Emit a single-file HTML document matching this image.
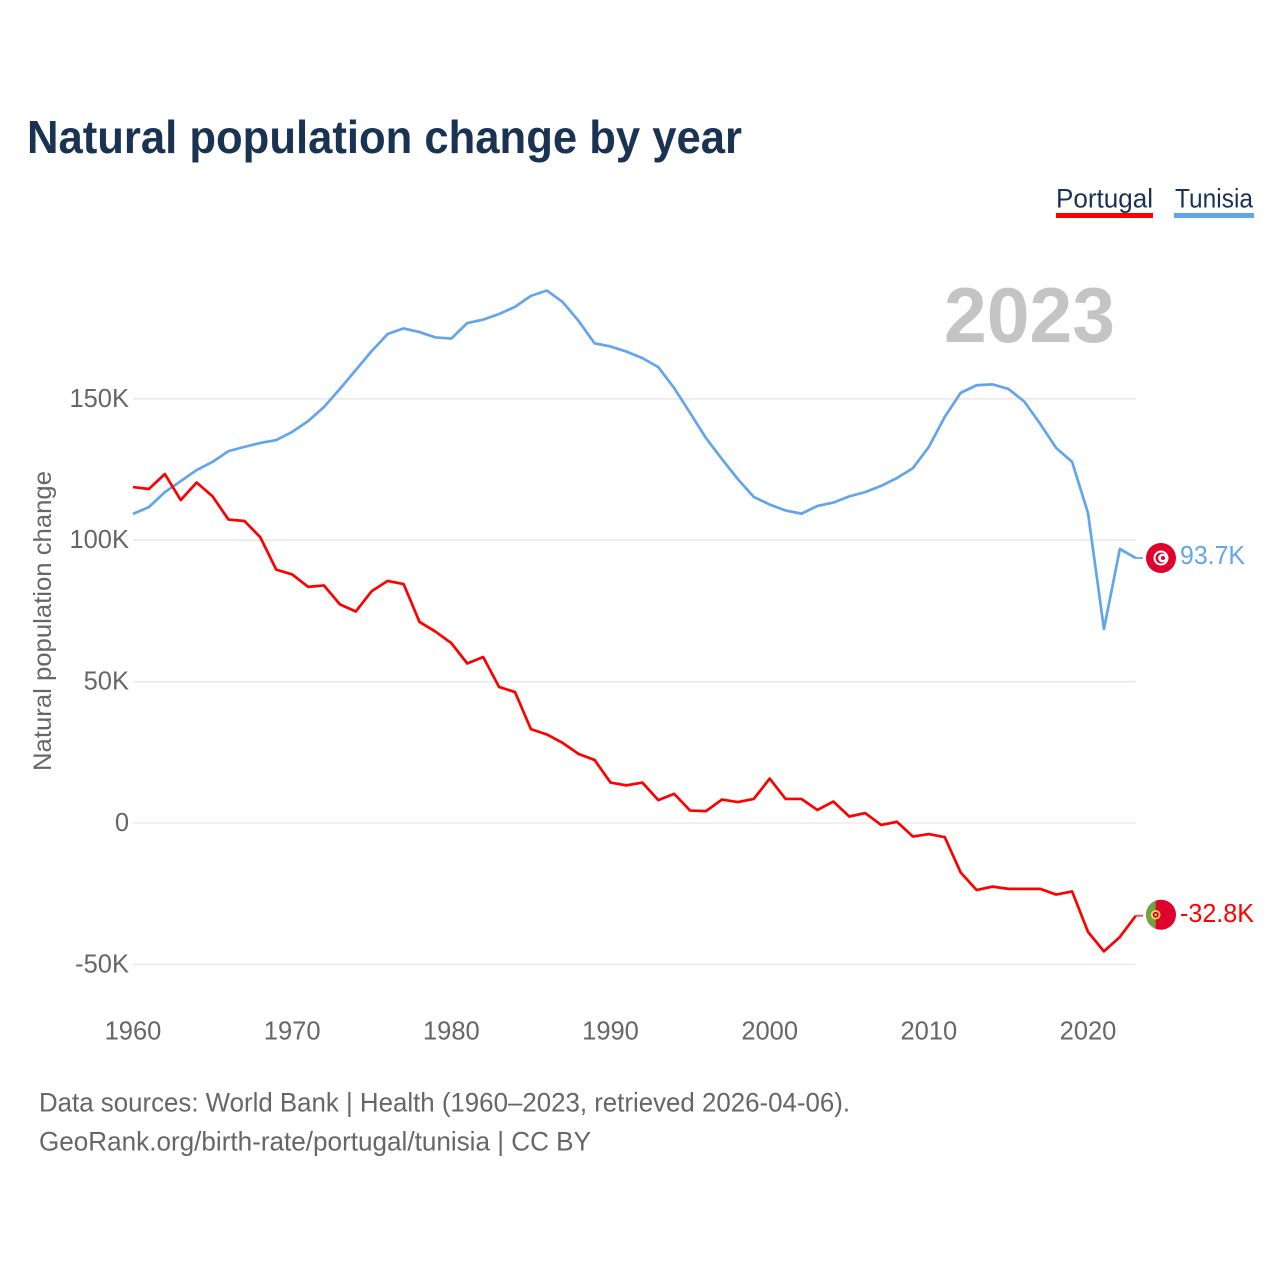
<!DOCTYPE html>
<html lang="en">
<head>
<meta charset="utf-8">
<title>Natural population change by year</title>
<style>
  html, body { margin: 0; padding: 0; background: #ffffff; }
  svg { display: block; font-family: "Liberation Sans", Arial, sans-serif; }
</style>
</head>
<body>
<svg id="chart" xmlns="http://www.w3.org/2000/svg" width="1280" height="1280" viewBox="0 0 1280 1280">
  <rect x="0" y="0" width="1280" height="1280" fill="#ffffff"/>
  <text x="27" y="153" font-size="46" font-weight="700" fill="#1a3353" textLength="715" lengthAdjust="spacingAndGlyphs">Natural population change by year</text>

  <g>
    <g>
      <text x="1056" y="207.5" font-size="27" fill="#1a3353" textLength="97" lengthAdjust="spacingAndGlyphs">Portugal</text>
      <rect x="1056" y="213" width="97" height="5" fill="#ff0000"/>
    </g>
    <g>
      <text x="1175" y="207.5" font-size="27" fill="#1a3353" textLength="78" lengthAdjust="spacingAndGlyphs">Tunisia</text>
      <rect x="1174" y="213" width="80" height="5" fill="#63a5ea"/>
    </g>
  </g>

  <text x="944" y="342" font-size="78" font-weight="700" fill="#c4c4c4" textLength="171" lengthAdjust="spacingAndGlyphs">2023</text>

  <g id="grid"></g>
  <g id="y-axis"></g>
  <g id="x-axis"></g>
  <text transform="translate(51 621) rotate(-90)" text-anchor="middle" font-size="25" fill="#666666" textLength="300" lengthAdjust="spacingAndGlyphs">Natural population change</text>
  <g id="series"></g>
  <g id="end-markers"></g>

  <text x="39" y="1111.5" font-size="26.5" fill="#666666" textLength="811" lengthAdjust="spacingAndGlyphs">Data sources: World Bank | Health (1960–2023, retrieved 2026-04-06).</text>
  <text x="39" y="1150.5" font-size="26.5" fill="#666666" textLength="552" lengthAdjust="spacingAndGlyphs">GeoRank.org/birth-rate/portugal/tunisia | CC BY</text>
</svg>
<script>
const startYear = 1960;
const yTicks = [-50, 0, 50, 100, 150];
const yTickLabels = ['-50K', '0', '50K', '100K', '150K'];
const xTicks = [1960, 1970, 1980, 1990, 2000, 2010, 2020];
const portugalValues = [
  118.8, 118.1, 123.4, 114.2, 120.4, 115.5, 107.3, 106.8, 101.0, 89.6,
  87.9, 83.5, 84.0, 77.3, 74.8, 82.0, 85.6, 84.5, 71.1, 67.7,
  63.6, 56.4, 58.7, 48.1, 46.3, 33.2, 31.3, 28.3, 24.4, 22.3,
  14.3, 13.3, 14.3, 8.1, 10.3, 4.4, 4.2, 8.3, 7.4, 8.5,
  15.7, 8.5, 8.5, 4.6, 7.6, 2.3, 3.5, -0.7, 0.4, -4.8,
  -3.9, -5.0, -17.5, -23.7, -22.5, -23.3, -23.3, -23.3, -25.3, -24.2,
  -38.5, -45.4, -40.3, -32.8
];
const tunisiaValues = [
  109.3, 111.7, 117.0, 120.9, 124.8, 127.7, 131.5, 133.0, 134.4, 135.4,
  138.3, 142.1, 147.1, 153.5, 160.2, 166.9, 172.9, 174.9, 173.6, 171.7,
  171.3, 176.8, 178.0, 180.0, 182.5, 186.4, 188.3, 184.2, 177.5, 169.6,
  168.5, 166.7, 164.4, 161.2, 153.8, 145.0, 136.1, 128.7, 121.6, 115.3,
  112.6, 110.5, 109.4, 112.1, 113.3, 115.5, 117.0, 119.2, 122.0, 125.5,
  133.0, 143.6, 152.1, 154.8, 155.1, 153.5, 149.0, 141.1, 132.6, 127.7,
  109.6, 68.6, 96.9, 93.7
];

const NS = 'http://www.w3.org/2000/svg';
function xScale(year) { return 133 + (year - 1960) * 15.917; }
function yScale(value) { return 823 - value * 2.828; }
function make(tag, attrs, parent) {
  const node = document.createElementNS(NS, tag);
  for (const key in attrs) node.setAttribute(key, attrs[key]);
  parent.appendChild(node);
  return node;
}
function formatEnd(v) { return v.toFixed(1) + 'K'; }

const gridGroup = document.getElementById('grid');
const yGroup = document.getElementById('y-axis');
const xGroup = document.getElementById('x-axis');
const seriesGroup = document.getElementById('series');
const endGroup = document.getElementById('end-markers');
const plotRight = xScale(startYear + portugalValues.length - 1);

yTicks.forEach(function (tick, i) {
  const line = make('line', { x1: 133, x2: plotRight, y1: yScale(tick), y2: yScale(tick), stroke: '#e6e6e6', 'stroke-width': 1.3 }, gridGroup);
  
  
  const label = make('text', { x: 129, y: yScale(tick) + 8, 'text-anchor': 'end', 'font-size': 25.5, fill: '#666666' }, yGroup);
  label.textContent = yTickLabels[i];
  
  
});

xTicks.forEach(function (year) {
  const label = make('text', { x: xScale(year), y: 1039.5, 'text-anchor': 'middle', 'font-size': 25.5, fill: '#666666' }, xGroup);
  label.textContent = String(year);
  
  
});

function drawSeries(values, color) {
  const pts = values.map(function (v, i) {
    return xScale(startYear + i).toFixed(2) + ',' + yScale(v).toFixed(2);
  });
  return make('polyline', { points: pts.join(' '), fill: 'none', stroke: color, 'stroke-width': 2.7, 'stroke-linejoin': 'round' }, seriesGroup);
}

const tunisiaLine = drawSeries(tunisiaValues, '#63a5ea');


const portugalLine = drawSeries(portugalValues, '#ff0000');



const tunisiaY = yScale(tunisiaValues[tunisiaValues.length - 1]);
const portugalY = yScale(portugalValues[portugalValues.length - 1]);

const tunisiaStub = make('line', { x1: plotRight, x2: 1143, y1: tunisiaY, y2: tunisiaY, stroke: '#63a5ea', 'stroke-width': 1.8 }, endGroup);


const portugalStub = make('line', { x1: plotRight, x2: 1143, y1: portugalY, y2: portugalY, stroke: '#ff4040', 'stroke-width': 1.8 }, endGroup);



/* Tunisia flag */
const tnFlag = make('g', { transform: 'translate(1161 ' + tunisiaY + ')' }, endGroup);


make('circle', { cx: 0, cy: 0, r: 15, fill: '#e0002d' }, tnFlag);
make('circle', { cx: 0, cy: 0, r: 7.5, fill: '#ffffff' }, tnFlag);
make('circle', { cx: 0, cy: 0, r: 5.5, fill: '#e0002d' }, tnFlag);
make('circle', { cx: 1.5, cy: 0, r: 4.4, fill: '#ffffff' }, tnFlag);
make('circle', { cx: 2, cy: 0, r: 2, fill: '#e0002d' }, tnFlag);

/* Portugal flag */
const ptFlag = make('g', { transform: 'translate(1161 ' + (portugalY - 1) + ')' }, endGroup);


make('circle', { cx: 0, cy: 0, r: 15, fill: '#e0002d' }, ptFlag);
make('path', { d: 'M -5.3 -14 A 15 15 0 0 0 -5.3 14 Z', fill: '#6da544' }, ptFlag);
make('circle', { cx: -5.3, cy: 0, r: 4.8, fill: '#ffda44' }, ptFlag);
make('circle', { cx: -5.3, cy: 0, r: 3, fill: '#d80027' }, ptFlag);
make('rect', { x: -6.3, y: -1, width: 2, height: 2, fill: '#f0f0f0' }, ptFlag);

const tunisiaLabel = make('text', { x: 1180, y: tunisiaY + 6, 'font-size': 25.5, fill: '#63a5ea', textLength: 65, lengthAdjust: 'spacingAndGlyphs' }, endGroup);
tunisiaLabel.textContent = formatEnd(tunisiaValues[tunisiaValues.length - 1]);


const portugalLabel = make('text', { x: 1180, y: portugalY + 6, 'font-size': 25.5, fill: '#ff0000', textLength: 74, lengthAdjust: 'spacingAndGlyphs' }, endGroup);
portugalLabel.textContent = formatEnd(portugalValues[portugalValues.length - 1]);


</script>
</body>
</html>
